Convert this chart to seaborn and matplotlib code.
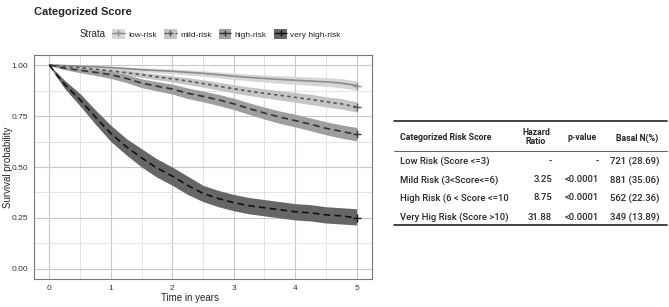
import numpy as np
import matplotlib
matplotlib.use('Agg')
import matplotlib.pyplot as plt
import seaborn as sns
import pandas as pd
from matplotlib.patches import Patch
from matplotlib.lines import Line2D

# Kaplan-Meier estimates
t = [0, 0.1, 0.25, 0.5, 0.75, 1, 1.25, 1.5, 1.75, 2, 2.25, 2.5, 2.75, 3,
     3.25, 3.5, 3.75, 4, 4.25, 4.5, 4.75, 5]

low = [1.0, 1.0, 0.998, 0.995, 0.992, 0.988, 0.983, 0.978, 0.974, 0.97, 0.965,
       0.96, 0.953, 0.946, 0.94, 0.935, 0.93, 0.926, 0.922, 0.918, 0.912, 0.90]
low_lo = [1.0, 0.998, 0.994, 0.99, 0.985, 0.98, 0.974, 0.968, 0.963, 0.958, 0.952,
          0.946, 0.938, 0.93, 0.923, 0.917, 0.911, 0.906, 0.901, 0.896, 0.889, 0.877]
low_hi = [1.0, 1.0, 1.0, 0.999, 0.997, 0.995, 0.991, 0.987, 0.984, 0.981, 0.977,
          0.973, 0.967, 0.961, 0.956, 0.952, 0.948, 0.945, 0.942, 0.939, 0.934, 0.922]

mild = [1.0, 0.998, 0.994, 0.988, 0.98, 0.972, 0.963, 0.953, 0.943, 0.933, 0.922,
        0.91, 0.897, 0.884, 0.872, 0.862, 0.852, 0.842, 0.832, 0.82, 0.81, 0.795]
mild_lo = [1.0, 0.996, 0.99, 0.982, 0.972, 0.962, 0.951, 0.94, 0.929, 0.918, 0.905,
           0.892, 0.878, 0.864, 0.851, 0.84, 0.829, 0.818, 0.807, 0.795, 0.784, 0.77]
mild_hi = [1.0, 1.0, 0.998, 0.994, 0.988, 0.982, 0.975, 0.966, 0.957, 0.948, 0.939,
           0.928, 0.916, 0.904, 0.893, 0.884, 0.875, 0.866, 0.857, 0.845, 0.836, 0.82]

high = [1.0, 0.995, 0.985, 0.975, 0.965, 0.953, 0.935, 0.912, 0.897, 0.883, 0.862,
        0.847, 0.83, 0.81, 0.787, 0.765, 0.745, 0.728, 0.71, 0.69, 0.675, 0.66]
high_lo = [1.0, 0.99, 0.978, 0.963, 0.95, 0.935, 0.915, 0.89, 0.874, 0.858, 0.836,
           0.82, 0.802, 0.782, 0.758, 0.735, 0.714, 0.697, 0.678, 0.658, 0.642, 0.628]
high_hi = [1.0, 1.0, 0.992, 0.986, 0.978, 0.97, 0.954, 0.933, 0.919, 0.907, 0.888,
           0.873, 0.857, 0.838, 0.815, 0.794, 0.775, 0.759, 0.741, 0.722, 0.707, 0.694]

very_high = [1.0, 0.96, 0.905, 0.83, 0.745, 0.665, 0.60, 0.545, 0.495, 0.455, 0.41,
             0.37, 0.345, 0.325, 0.31, 0.30, 0.29, 0.28, 0.275, 0.265, 0.26, 0.25]
vh_lo = [1.0, 0.95, 0.885, 0.80, 0.71, 0.625, 0.56, 0.50, 0.45, 0.41, 0.365,
         0.33, 0.305, 0.285, 0.27, 0.26, 0.25, 0.24, 0.235, 0.225, 0.22, 0.215]
vh_hi = [1.0, 0.97, 0.925, 0.86, 0.78, 0.705, 0.64, 0.59, 0.54, 0.50, 0.455,
         0.41, 0.385, 0.365, 0.35, 0.34, 0.33, 0.32, 0.315, 0.305, 0.30, 0.295]

strata = ['low-risk', 'mild-risk', 'high-risk', 'very high-risk']

# table
tbl_header = ['Categorized Risk Score', 'Hazard\nRatio', 'p-value', 'Basal N(%)']
tbl_rows = [
    ['Low Risk (Score <=3)', '-', '-', '721 (28.69)'],
    ['Mild Risk (3<Score<=6)', '3.25', '<0.0001', '881 (35.06)'],
    ['High Risk (6 < Score <=10', '8.75', '<0.0001', '562 (22.36)'],
    ['Very Hig Risk (Score >10)', '31.88', '<0.0001', '349 (13.89)'],
]

sns.set_theme(style='whitegrid')
plt.rcParams['font.family'] = ['Liberation Sans', 'DejaVu Sans']

curves = [
    (low, low_lo, low_hi, '#8c8c8c', '#d6d6d6', '-'),
    (mild, mild_lo, mild_hi, '#555555', '#c4c4c4', (0, (2, 2))),
    (high, high_lo, high_hi, '#333333', '#9e9e9e', (0, (4, 2.5))),
    (very_high, vh_lo, vh_hi, '#111111', '#666666', (0, (4, 2.5))),
]

W, H = 669, 307
fy = lambda y: 1 - y / H

fig = plt.figure(figsize=(6.69, 3.07), dpi=100)
ax = fig.add_axes([34 / W, fy(279), (372 - 34) / W, (279 - 55) / H])

for (s, lo, hi, lc, fc, ls), name in zip(curves, strata):
    ax.fill_between(t, lo, hi, color=fc, lw=0, zorder=2)
    df = pd.DataFrame({'t': t, 's': s})
    sns.lineplot(data=df, x='t', y='s', ax=ax, color=lc, lw=1.2, linestyle=ls,
                 zorder=3, legend=False)
    ax.plot(t[-1], s[-1], marker='+', color=lc, ms=6, mew=1.0, zorder=4)

ax.set_xlim(-0.25, 5.25)
ax.set_ylim(-0.05, 1.05)
ax.set_xticks([0, 1, 2, 3, 4, 5])
ax.set_yticks([0, 0.25, 0.5, 0.75, 1.0])
ax.set_yticklabels(['0.00', '0.25', '0.50', '0.75', '1.00'])
ax.set_xticks(np.arange(0.5, 5.1, 1), minor=True)
ax.set_yticks([0.125, 0.375, 0.625, 0.875], minor=True)
ax.grid(which='major', color='#c8c8c8', lw=0.8)
ax.grid(which='minor', color='#dedede', lw=0.6)
ax.tick_params(which='both', labelsize=6, length=2, color='#333333', pad=2,
               labelcolor='#333333')
ax.tick_params(which='minor', length=0)
for sp in ax.spines.values():
    sp.set_color('#777777')
    sp.set_linewidth(0.8)
ax.set_xlabel('')
ax.set_ylabel('')
fig.text(190 / W, fy(298), 'Time in years', fontsize=7, ha='center', va='center')
fig.text(8 / W, fy(167), 'Survival probability', fontsize=7, ha='center',
         va='center', rotation=90)

fig.text(34 / W, fy(12), 'Categorized Score', fontsize=8, fontweight='bold', va='center')
fig.text(80 / W, fy(34), 'Strata', fontsize=7, va='center')

handles = []
for lo, lc, fc, ls in [(c[1], c[3], c[4], c[5]) for c in curves]:
    handles.append((Patch(facecolor=fc, edgecolor='none'),
                    Line2D([], [], color=lc, lw=1.0, linestyle=ls, marker='+', ms=5)))
fig.legend(handles, strata, loc='center left', bbox_to_anchor=(108 / W, fy(34)),
           ncol=4, frameon=False, fontsize=6, handlelength=1.5, handleheight=1.4,
           columnspacing=0.9, handletextpad=0.4, borderpad=0)

# risk table
tfont = ['Roboto', 'DejaVu Sans']
x_lab, x_hr, x_p, x_n = 400, 552, 599, 660
for yy in (121, 225):
    fig.add_artist(Line2D([394 / W, 667 / W], [fy(yy), fy(yy)], color='#222222', lw=1.2))
fig.add_artist(Line2D([394 / W, 667 / W], [fy(151), fy(151)], color='#444444', lw=0.6))
fig.text(x_lab / W, fy(138), tbl_header[0], fontsize=6.3, fontweight='bold',
         family=tfont, va='center', ha='left')
fig.text(536 / W, fy(137), tbl_header[1], fontsize=6.3, fontweight='bold',
         family=tfont, va='center', ha='center', linespacing=1.1)
fig.text(582 / W, fy(138), tbl_header[2], fontsize=6.3, fontweight='bold',
         family=tfont, va='center', ha='center')
fig.text(637 / W, fy(138), tbl_header[3], fontsize=6.3, fontweight='bold',
         family=tfont, va='center', ha='center')
row_y = [161, 180, 198, 217]
for y, row in zip(row_y, tbl_rows):
    for x, txt, ha in [(x_lab, row[0], 'left'), (x_hr, row[1], 'right'),
                       (x_p, row[2], 'right'), (x_n, row[3], 'right')]:
        fig.text(x / W, fy(y), txt, fontsize=6.8, family=tfont, va='center', ha=ha,
                 fontweight='medium')

plt.savefig('out.png', dpi=100)
plt.close()
